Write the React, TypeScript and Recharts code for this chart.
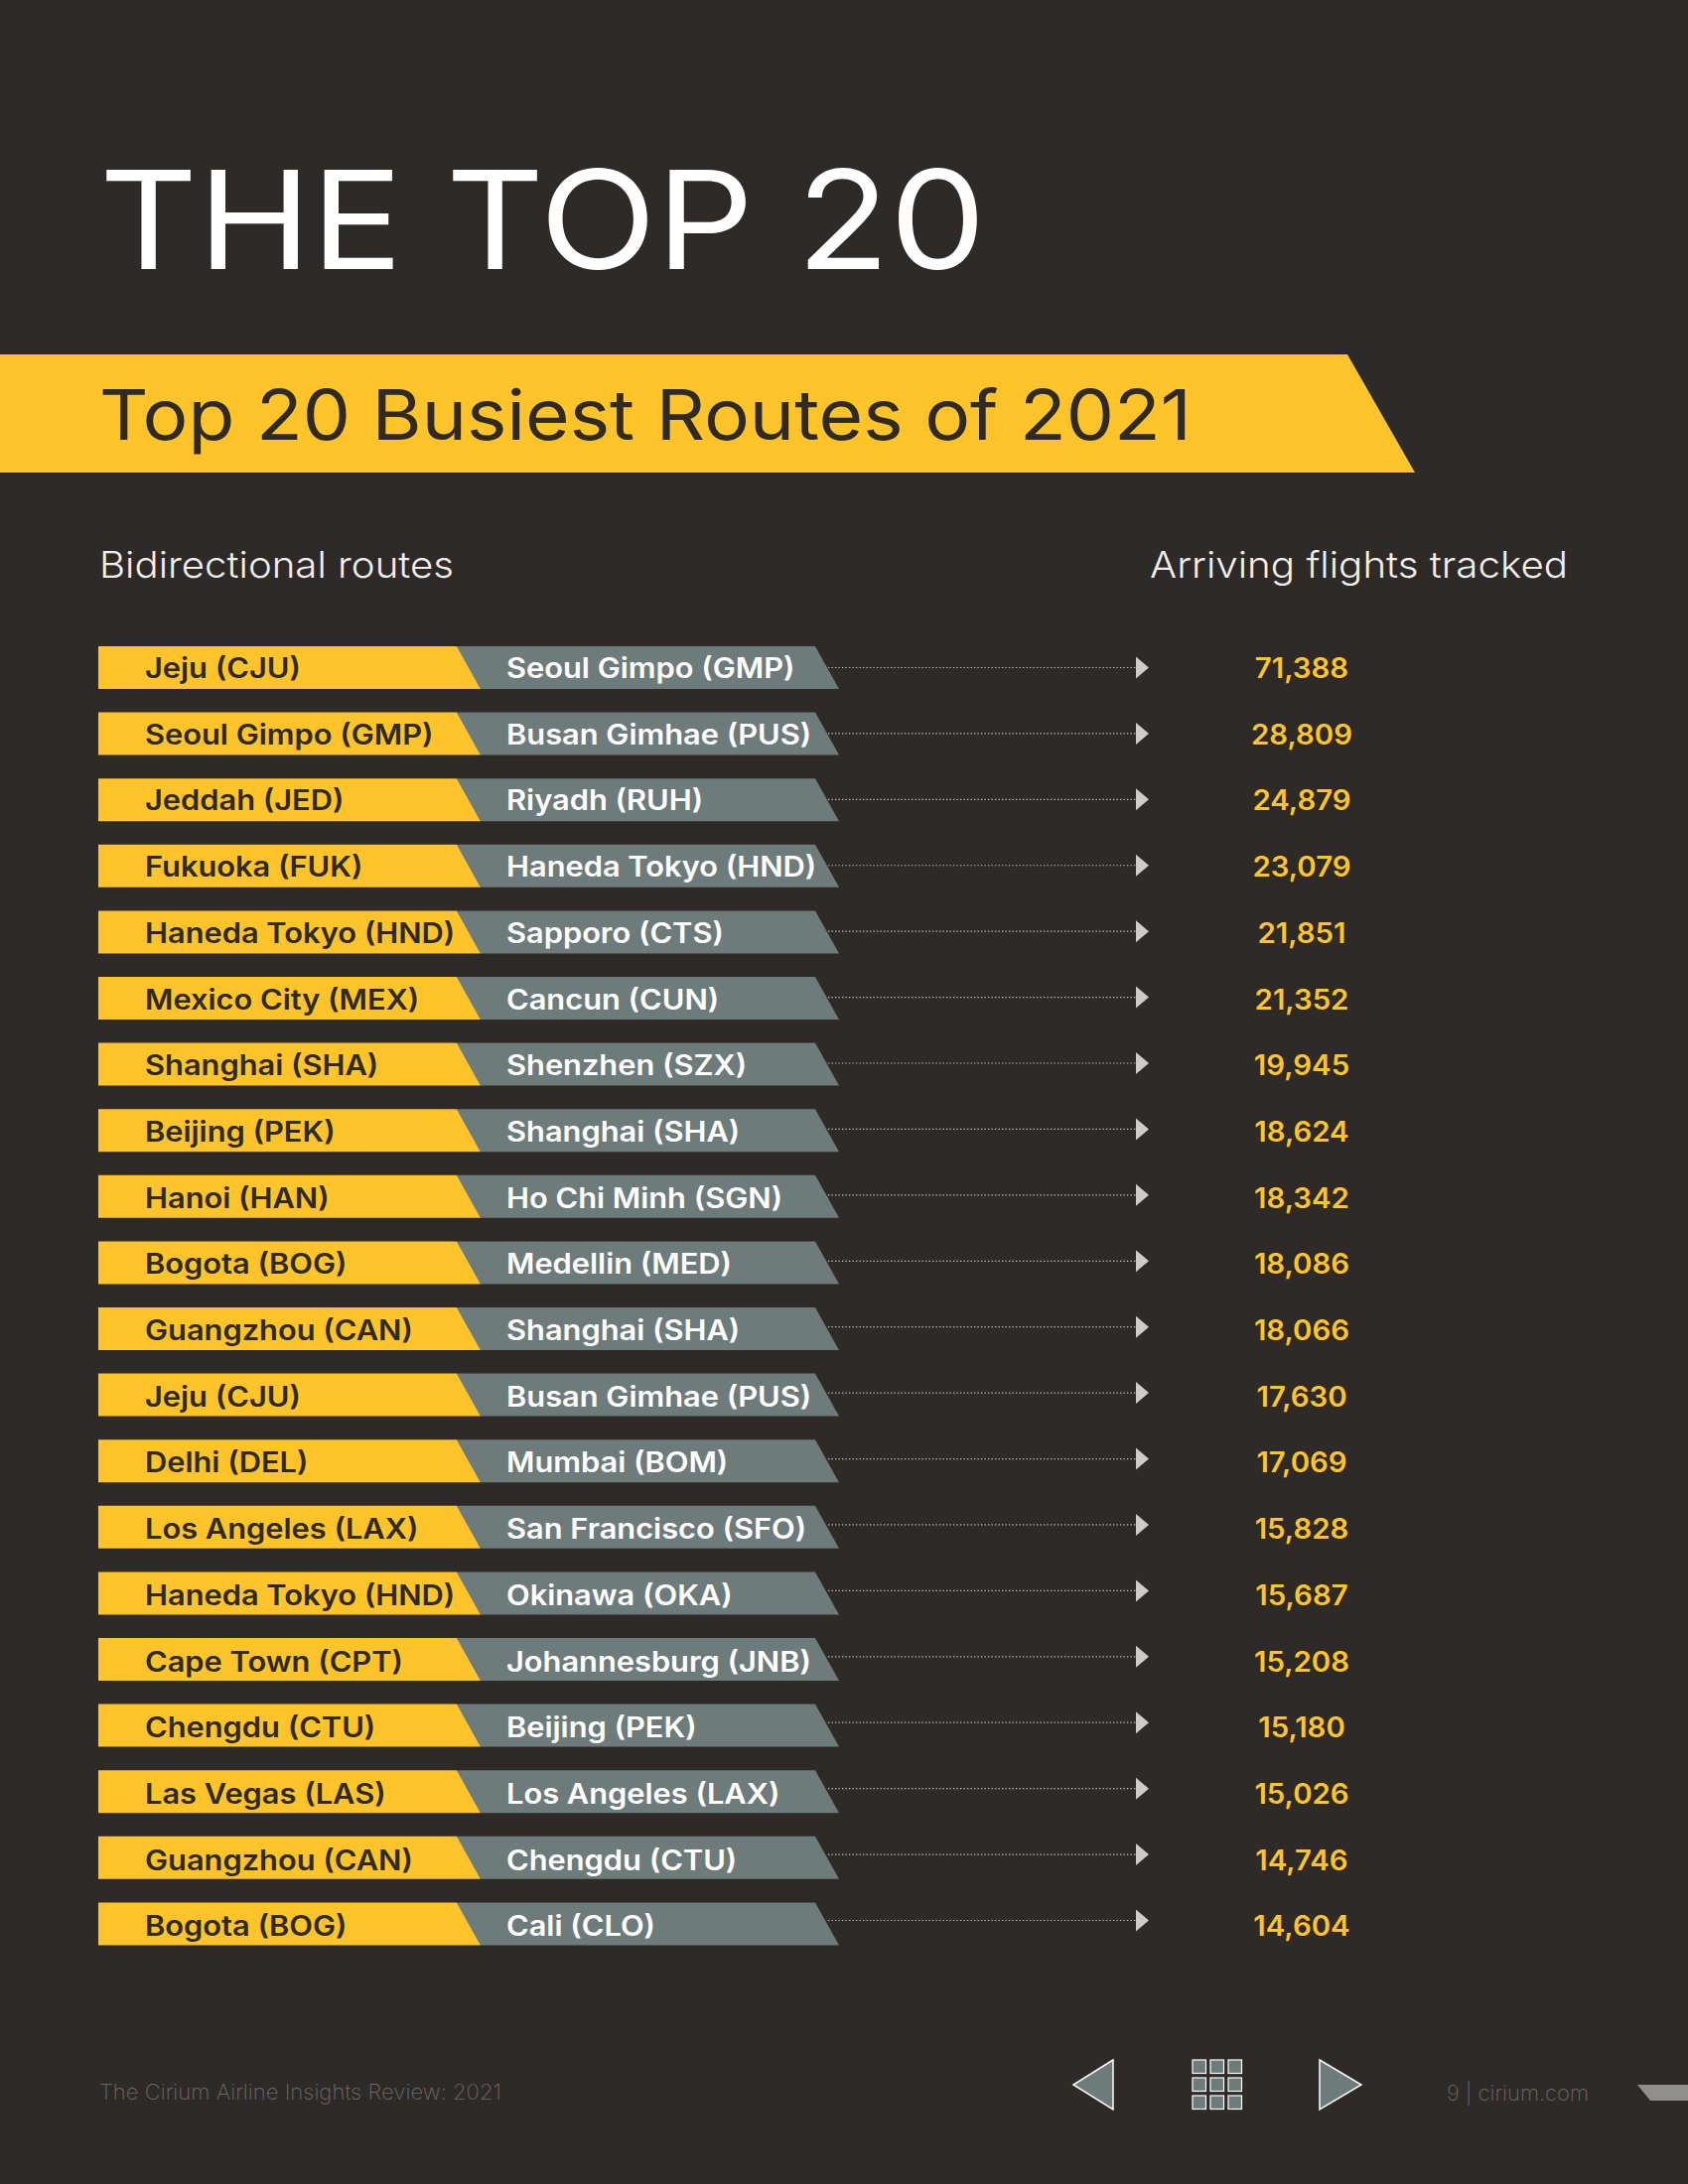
import { Bar, BarChart, LabelList, XAxis, YAxis } from "recharts";

const origins = [
  "Jeju (CJU)", "Seoul Gimpo (GMP)", "Jeddah (JED)", "Fukuoka (FUK)", "Haneda Tokyo (HND)",
  "Mexico City (MEX)", "Shanghai (SHA)", "Beijing (PEK)", "Hanoi (HAN)", "Bogota (BOG)",
  "Guangzhou (CAN)", "Jeju (CJU)", "Delhi (DEL)", "Los Angeles (LAX)", "Haneda Tokyo (HND)",
  "Cape Town (CPT)", "Chengdu (CTU)", "Las Vegas (LAS)", "Guangzhou (CAN)", "Bogota (BOG)",
];
const destinations = [
  "Seoul Gimpo (GMP)", "Busan Gimhae (PUS)", "Riyadh (RUH)", "Haneda Tokyo (HND)", "Sapporo (CTS)",
  "Cancun (CUN)", "Shenzhen (SZX)", "Shanghai (SHA)", "Ho Chi Minh (SGN)", "Medellin (MED)",
  "Shanghai (SHA)", "Busan Gimhae (PUS)", "Mumbai (BOM)", "San Francisco (SFO)", "Okinawa (OKA)",
  "Johannesburg (JNB)", "Beijing (PEK)", "Los Angeles (LAX)", "Chengdu (CTU)", "Cali (CLO)",
];
const flights = [
  71388, 28809, 24879, 23079, 21851, 21352, 19945, 18624, 18342, 18086,
  18066, 17630, 17069, 15828, 15687, 15208, 15180, 15026, 14746, 14604,
];

const rows = origins.map((origin, i) => ({
  id: i,
  origin,
  destination: destinations[i],
  flights: flights[i],
}));

const BG = "#2d2a28";
const YELLOW = "#ffc42a";
const SLATE = "#6e7b7b";
const FONT = "Inter, 'Open Sans', sans-serif";

// every row is the same ribbon, whatever the value
const RouteRibbon = ({ x, y, height, index }: any) => {
  const b = y + height;
  // the leader lines creep up a little against the ribbons going down the page
  const mid = y + height / 2 - index * 0.18;
  return (
    <g>
      <path d={`M${x + 361},${y}L${x + 722},${y}L${x + 746},${b}L${x + 385},${b}Z`} fill={SLATE} />
      <path d={`M${x},${y}L${x + 361},${y}L${x + 385},${b}L${x},${b}Z`} fill={YELLOW} />
      <line x1={x + 735} y1={mid} x2={x + 1045} y2={mid} stroke="#c9c6c3" strokeWidth={1.2} strokeDasharray="1.3 2.2" />
      <path d={`M${x + 1045},${mid - 11}L${x + 1058},${mid}L${x + 1045},${mid + 11}Z`} fill="#cfcbc8" />
    </g>
  );
};

const RowText = ({ x, y, height, index }: any) => {
  const row = rows[index];
  const base = y + height / 2 + 10.5 + index * 0.1;
  const common = { fontFamily: FONT, fontSize: 28, fontWeight: 600 };
  return (
    <g>
      <text transform={`translate(${x + 47},${base}) scale(1.1,1)`} fill={BG} {...common}>{row.origin}</text>
      <text transform={`translate(${x + 411},${base}) scale(1.1,1)`} fill="#ffffff" {...common}>{row.destination}</text>
      <text transform={`translate(${x + 1212},${base}) scale(1.05,1)`} fill={YELLOW} textAnchor="middle" {...common}>
        {row.flights.toLocaleString("en-US")}
      </text>
    </g>
  );
};

export default function App() {
  return (
    <div style={{ position: "absolute", left: 0, top: 0, width: 1700, height: 2200, background: BG, overflow: "hidden" }}>
      <svg width={1700} height={2200} style={{ position: "absolute", left: 0, top: 0 }}>
        <text x={100} y={271} fill="#fff" fontFamily={FONT} fontSize={138} fontWeight={400} textLength={893} lengthAdjust="spacingAndGlyphs">THE TOP 20</text>
        <path d="M0,357L1357,357L1425,476L0,476Z" fill={YELLOW} />
        <text x={100} y={443} fill={BG} fontFamily={FONT} fontSize={70} fontWeight={400} textLength={1100} lengthAdjust="spacingAndGlyphs">Top 20 Busiest Routes of 2021</text>
        <text x={100} y={582} fill="#f2f0ee" fontFamily={FONT} fontSize={37} fontWeight={300} textLength={357} lengthAdjust="spacingAndGlyphs">Bidirectional routes</text>
        <text x={1158} y={582} fill="#f2f0ee" fontFamily={FONT} fontSize={37} fontWeight={300} textLength={421} lengthAdjust="spacingAndGlyphs">Arriving flights tracked</text>

        <text x={100} y={2115} fill="#6f6b67" fontFamily={FONT} fontSize={21} fontWeight={200} textLength={405} lengthAdjust="spacingAndGlyphs">The Cirium Airline Insights Review: 2021</text>
        <text x={1457} y={2116} fill="#6f6b67" fontFamily={FONT} fontSize={21} fontWeight={200} textLength={143} lengthAdjust="spacingAndGlyphs">9 | cirium.com</text>
        <path d="M1649,2100L1700,2100L1700,2116L1662,2116Z" fill="#8f8f8d" />

        <path d="M1121,2075L1081,2100L1121,2125Z" fill={SLATE} stroke="#fff" strokeWidth={1.5} />
        <path d="M1329,2075L1371,2100L1329,2125Z" fill={SLATE} stroke="#fff" strokeWidth={1.5} />
        {[0, 1, 2].map((r) =>
          [0, 1, 2].map((c) => (
            <rect key={`${r}-${c}`} x={1201 + c * 18} y={2075 + r * 18} width={13.5} height={13.5} fill={SLATE} stroke="#fff" strokeWidth={1.2} />
          )),
        )}
      </svg>
      <div style={{ position: "absolute", left: 0, top: 0 }}>
        <BarChart
          width={1700}
          height={2200}
          layout="vertical"
          data={rows}
          barCategoryGap={0}
          margin={{ top: 639, right: 320, bottom: 229, left: 99 }}
        >
          <XAxis type="number" dataKey="flights" domain={[0, 80000]} hide />
          <YAxis type="category" dataKey="id" hide />
          <Bar dataKey="flights" barSize={43} shape={RouteRibbon} isAnimationActive={false}>
            <LabelList dataKey="flights" content={RowText} />
          </Bar>
        </BarChart>
      </div>
    </div>
  );
}
